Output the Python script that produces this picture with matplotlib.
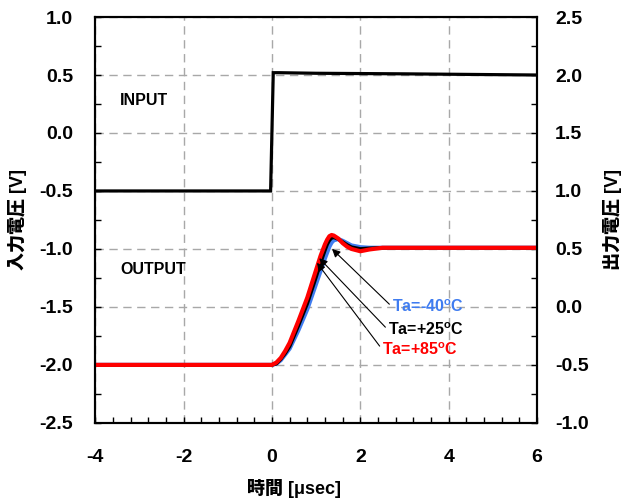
import numpy as np
import matplotlib.pyplot as plt
from matplotlib.ticker import MultipleLocator

plt.rcParams['font.family'] = ['Liberation Sans', 'Noto Sans CJK JP']
plt.rcParams['font.weight'] = 'bold'
plt.rcParams['axes.unicode_minus'] = False
plt.rcParams['mathtext.fontset'] = 'custom'
plt.rcParams['mathtext.rm'] = 'Liberation Sans'
plt.rcParams['mathtext.bf'] = 'Liberation Sans:bold'

# input step (left axis)
t_in = [-4, -0.03, 0.03, 0.15, 1.0, 3.0, 6.0]
v_in = [-0.5, -0.5, 0.52, 0.52, 0.515, 0.51, 0.50]

# output response (right axis)
t_out = [-4, 0, 0.1, 0.2, 0.3, 0.4, 0.6, 0.8, 1.0, 1.1, 1.2, 1.25, 1.3, 1.35, 1.4, 1.5, 1.6, 1.7, 1.8, 2.0, 2.2, 2.5, 3, 6]
v_m40 = [-0.5, -0.5, -0.49, -0.46, -0.41, -0.36, -0.2, -0.02, 0.2, 0.31, 0.42, 0.47, 0.52, 0.555, 0.575, 0.585, 0.57, 0.55, 0.53, 0.515, 0.51, 0.51, 0.51, 0.51]
v_p25 = [-0.5, -0.5, -0.49, -0.45, -0.40, -0.34, -0.16, 0.03, 0.26, 0.38, 0.49, 0.54, 0.575, 0.595, 0.6, 0.585, 0.56, 0.535, 0.515, 0.5, 0.505, 0.51, 0.51, 0.51]
v_p85 = [-0.5, -0.5, -0.48, -0.44, -0.38, -0.31, -0.12, 0.08, 0.32, 0.44, 0.54, 0.58, 0.61, 0.62, 0.615, 0.59, 0.55, 0.52, 0.50, 0.48, 0.495, 0.51, 0.51, 0.51]

fig = plt.figure(figsize=(6.26, 5.01), dpi=100)
ax = fig.add_axes([0.152, 0.156, 0.706, 0.81])
ax2 = ax.twinx()

ax.plot(t_in, v_in, color='black', lw=2.3, solid_joinstyle='miter')
ax2.plot(t_out, v_m40, color='#3f7cf0', lw=3)
ax2.plot(t_out, v_p25, color='black', lw=2.6)
ax2.plot(t_out, v_p85, color='#ff0000', lw=3)

ax.set_xlim(-4, 6)
ax.set_ylim(-2.5, 1.0)
ax2.set_ylim(-1.0, 2.5)
ax.xaxis.set_major_locator(MultipleLocator(2))
ax.xaxis.set_minor_locator(MultipleLocator(0.4))
ax.yaxis.set_major_locator(MultipleLocator(0.5))
ax.yaxis.set_minor_locator(MultipleLocator(0.25))
ax2.yaxis.set_major_locator(MultipleLocator(0.5))
ax2.yaxis.set_minor_locator(MultipleLocator(0.25))
ax.yaxis.set_major_formatter('{x:.1f}')
ax2.yaxis.set_major_formatter('{x:.1f}')

for a in (ax, ax2):
    a.tick_params(which='both', direction='in', labelsize=14, width=1, length=4)
    for s in a.spines.values():
        s.set_linewidth(1.5)
ax.tick_params(axis='x', pad=19)
ax.tick_params(axis='y', pad=16)
ax2.tick_params(axis='y', pad=13)
ax.tick_params(top=False, which='both')

ax.grid(True, color='#a8a8a8', ls=(0, (6, 4)), lw=1)
ax.set_axisbelow(True)

ax.set_xlabel('時間 [μsec]', fontsize=13, fontweight='heavy')
ax.xaxis.set_label_coords(0.45, -0.138)
ax.set_ylabel('入力電圧 [V]', fontsize=13, fontweight='heavy')
ax.yaxis.set_label_coords(-0.154, 0.5)
ax2.set_ylabel('出力電圧 [V]', fontsize=13, fontweight='heavy')
ax2.yaxis.set_label_coords(1.149, 0.5)

ax.text(-3.43, 0.28, 'INPUT', fontsize=11.5, fontweight='bold', va='center')
ax.text(-3.43, -1.175, 'OUTPUT', fontsize=11.5, fontweight='bold', va='center')

# temperature labels with arrows
labels = ['Ta=-40$^\\mathbf{o}$C', 'Ta=+25$^\\mathbf{o}$C', 'Ta=+85$^\\mathbf{o}$C']
colors = ['#3f7cf0', 'black', '#ff0000']
tips = [(1.36, 0.50), (1.07, 0.42), (1.02, 0.38)]
texts = [(2.72, 0.0), (2.63, -0.2), (2.5, -0.37)]
for lab, c, tip, tx in zip(labels, colors, tips, texts):
    ax2.annotate(lab, xy=tip, xytext=tx, color=c, fontsize=11.5, fontweight='bold',
                 va='center', ha='left',
                 arrowprops=dict(arrowstyle='-|>', color='black', lw=0.8,
                                 mutation_scale=12, shrinkA=0, shrinkB=0,
                                 relpos=(0, 0.5)))

plt.savefig('out.png', dpi=100)
